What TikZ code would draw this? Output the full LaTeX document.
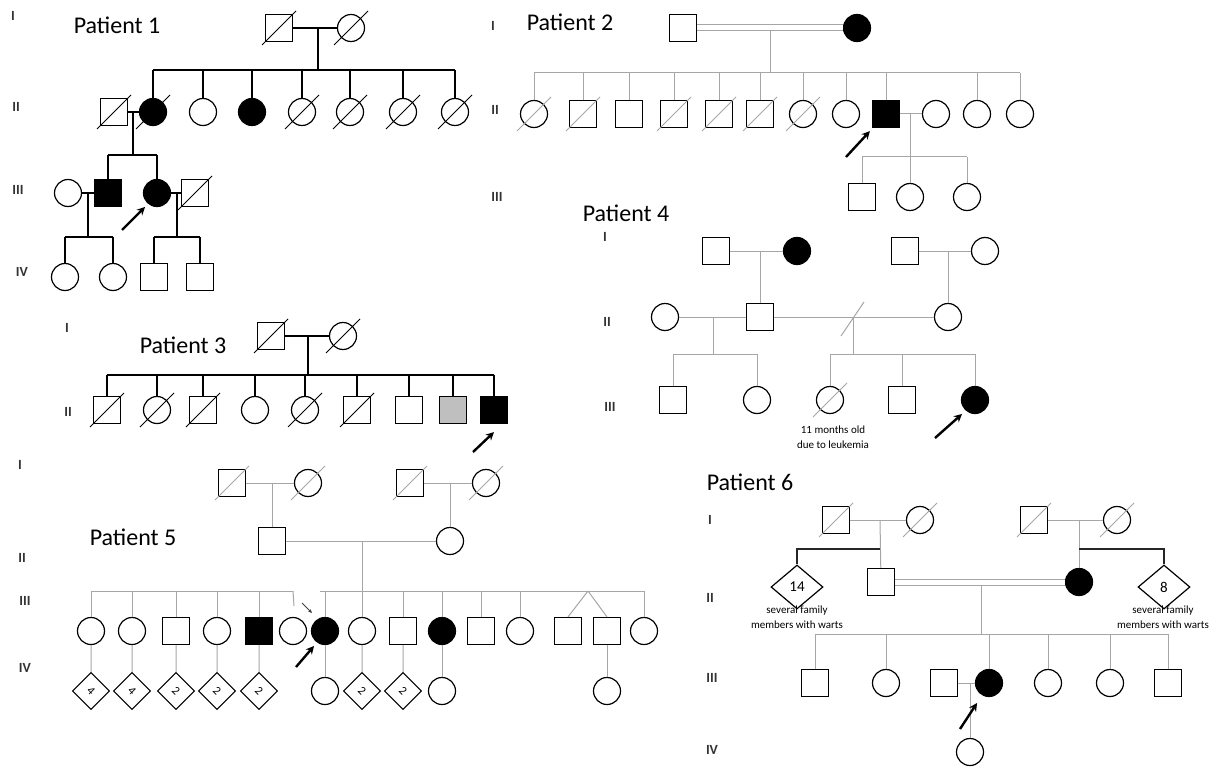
\documentclass[tikz,border=0pt]{standalone}
\usepackage{fontspec}
\setmainfont{Carlito}
\usetikzlibrary{calc,arrows.meta,shapes.geometric}
\newcommand\Dx[2][black]{\draw[#1,line width=1] ($(#2)+(-17,17)$) -- ($(#2)+(17,-17)$);}
\tikzset{
 ind/.style={inner sep=0, line width=1.2, draw=black},
 sq/.style={ind, rectangle, minimum size=27},
 ci/.style={ind, circle, minimum size=27},
 aff/.style={fill=black},
 ln/.style={line width=1.4, black},
 gln/.style={line width=1, gray!70},
 gsh/.style={draw=black!70},
 pro/.style={line width=2.4, -{Stealth[length=8, width=8]}},
 lab/.style={font=\fontsize{24}{28}\selectfont, inner sep=0},
 gen/.style={font=\fontsize{14}{16}\selectfont\bfseries, text=black!80, inner sep=0},
 sm/.style={font=\fontsize{11}{12}\selectfont, inner sep=0},
 dia/.style={ind, rectangle, minimum size=26, rotate=-45, font=\fontsize{12}{13}\selectfont},
 bdia/.style={ind, diamond, minimum width=52, minimum height=44, font=\fontsize{15}{16}\selectfont},
}
\begin{document}
\begin{tikzpicture}[x=1pt,y=-1pt]
\useasboundingbox (0,0) rectangle (1222,767);
% ================= Patient 1 =================
\node[lab] (t1) at (117,25) {Patient 1};
\node[gen] (g1a) at (13,16) {I};
\node[gen] (g1b) at (16,107) {II};
\node[gen] (g1c) at (18,190) {III};
\node[gen] (g1d) at (22,272) {IV};
\node[sq] (a1) at (279,28) {}; \Dx{a1}
\node[ci] (a2) at (351,28) {}; \Dx{a2}
\draw[ln] (a1) -- (a2);
\coordinate (a12) at (318,28); \coordinate (a12s) at (318,70);
\draw[ln] (a12) -- (a12s);
\node[sq] (b1) at (114,112) {}; \Dx{b1}
\node[ci,aff] (b2) at (153,112) {}; \Dx{b2}
\node[ci] (b3) at (203,112) {};
\node[ci,aff] (b4) at (252,112) {};
\node[ci] (b5) at (302,112) {}; \Dx{b5}
\node[ci] (b6) at (350,112) {}; \Dx{b6}
\node[ci] (b7) at (403,112) {}; \Dx{b7}
\node[ci] (b8) at (455,112) {}; \Dx{b8}
\draw[ln] (b2.north|-a12s) -- (b8.north|-a12s);
\foreach \n in {b2,b3,b4,b5,b6,b7,b8} \draw[ln] (\n.north) -- (\n.north|-a12s);
\draw[ln] (b1) -- (b2);
\coordinate (b12) at (133,112); \coordinate (b12s) at (133,155);
\draw[ln] (b12) -- (b12s);
\node[ci] (c1) at (68,193) {};
\node[sq,aff] (c2) at (108,193) {};
\node[ci,aff] (c3) at (157,193) {};
\node[sq] (c4) at (195,193) {}; \Dx{c4}
\draw[ln] (c2.north|-b12s) -- (c3.north|-b12s);
\foreach \n in {c2,c3} \draw[ln] (\n.north) -- (\n.north|-b12s);
\draw[ln] (c1) -- (c2); \draw[ln] (c3) -- (c4);
\coordinate (c12) at (88,193); \coordinate (c12s) at (88,237);
\coordinate (c34) at (177,193); \coordinate (c34s) at (177,237);
\draw[ln] (c12) -- (c12s); \draw[ln] (c34) -- (c34s);
\node[ci] (d1) at (65,277) {};
\node[ci] (d2) at (113,277) {};
\node[sq] (d3) at (154,277) {};
\node[sq] (d4) at (200,277) {};
\draw[ln] (d1.north|-c12s) -- (d2.north|-c12s);
\draw[ln] (d3.north|-c34s) -- (d4.north|-c34s);
\foreach \n/\s in {d1/c12s,d2/c12s,d3/c34s,d4/c34s} \draw[ln] (\n.north) -- (\n.north|-\s);
\coordinate (ar1) at (122,230);
\draw[pro] (ar1) -- ($(c3.south west)+(-2,4)$);
% ================= Patient 2 =================
\node[lab] (t2) at (570,22) {Patient 2};
\node[gen] (g2a) at (493,26) {I};
\node[gen] (g2b) at (495,110) {II};
\node[gen] (g2c) at (497,197) {III};
\begin{scope}[every node/.append style={gsh}]
\node[sq] (e1) at (683,28) {};
\node[ci,aff] (e2) at (857,28) {};
\node[ci] (f1) at (534,114) {};
\node[sq] (f2) at (583,114) {};
\node[sq] (f3) at (629,114) {};
\node[sq] (f4) at (674,114) {};
\node[sq] (f5) at (719,114) {};
\node[sq] (f6) at (760,114) {};
\node[ci] (f7) at (803,114) {};
\node[ci] (f8) at (846,114) {};
\node[sq,aff] (f9) at (886,114) {};
\node[ci] (f10) at (936,114) {};
\node[ci] (f11) at (977,114) {};
\node[ci] (f12) at (1020,114) {};
\node[sq] (h31) at (862,197) {};
\node[ci] (h32) at (910,197) {};
\node[ci] (h33) at (967,197) {};
\end{scope}
\foreach \n in {f1,f2,f4,f5,f6,f7} {\Dx[gray!70]{\n}}
\draw[gln, double, double distance=5] (e1) -- (e2);
\coordinate (e12) at (770,31); \coordinate (e12s) at (770,73);
\draw[gln] (e12) -- (e12s);
\draw[gln] (f1.north|-e12s) -- (f12.north|-e12s);
\foreach \n in {f1,f2,f3,f4,f5,f6,f7,f8,f9,f11,f12} \draw[gln] (\n.north) -- (\n.north|-e12s);
\draw[gln] (f9) -- (f10);
\coordinate (f910) at (910,114); \coordinate (f910s) at (910,157);
\draw[gln] (f910) -- (f910s);
\draw[gln] (h31.north|-f910s) -- (h33.north|-f910s);
\foreach \n in {h31,h32,h33} \draw[gln] (\n.north) -- (\n.north|-f910s);
\coordinate (ar2) at (846,157);
\draw[pro] (ar2) -- ($(f9.south west)+(-2,3)$);
% ================= Patient 4 =================
\node[lab] (t4) at (626,213) {Patient 4};
\node[gen] (g4a) at (605,237) {I};
\node[gen] (g4b) at (607,322) {II};
\node[gen] (g4c) at (610,407) {III};
\begin{scope}[every node/.append style={draw=black!85, minimum size=29}]
\node[sq] (h1) at (716,251) {};
\node[ci,aff] (h2) at (797,251) {};
\node[sq] (h3) at (905,251) {};
\node[ci] (h4) at (985,251) {};
\node[ci] (i1) at (665,317) {};
\node[sq] (i2) at (760,317) {};
\node[ci] (i3) at (948,317) {};
\node[sq] (j1) at (673,400) {};
\node[ci] (j2) at (757,400) {};
\node[ci] (j3) at (830,400) {};
\node[sq] (j4) at (902,400) {};
\node[ci,aff] (j5) at (975,400) {};
\end{scope}
\Dx[gray!70]{j3}
\draw[gln] (h1) -- (h2); \draw[gln] (h3) -- (h4);
\coordinate (h12) at (760,251); \draw[gln] (h12) -- (i2);
\coordinate (h34) at (948,251); \draw[gln] (h34) -- (i3);
\draw[gln] (i1) -- (i2); \draw[gln] (i2) -- (i3);
\coordinate (i12) at (713,317); \coordinate (i12s) at (713,354);
\draw[gln] (i12) -- (i12s);
\draw[gln] (j1.north|-i12s) -- (j2.north|-i12s);
\foreach \n in {j1,j2} \draw[gln] (\n.north) -- (\n.north|-i12s);
\coordinate (i23) at (853,317); \coordinate (i23s) at (853,354);
\draw[gln] (i23) -- (i23s);
\draw[gln] ($(i23)+(-12,19)$) -- ($(i23)+(11,-15)$);
\draw[gln] (j3.north|-i23s) -- (j5.north|-i23s);
\foreach \n in {j3,j4,j5} \draw[gln] (\n.north) -- (\n.north|-i23s);
\node[sm] (n4a) at (833,430) {11 months old};
\node[sm] (n4b) at (833,445) {due to leukemia};
\coordinate (ar4) at (935,438);
\draw[pro] (ar4) -- ($(j5.south west)+(-3,4)$);
% ================= Patient 3 =================
\node[lab] (t3) at (183,345) {Patient 3};
\node[gen] (g3a) at (67,328) {I};
\node[gen] (g3b) at (68,412) {II};
\node[sq] (k1) at (271,336) {}; \Dx{k1}
\node[ci] (k2) at (343,336) {}; \Dx{k2}
\draw[ln] (k1) -- (k2);
\coordinate (k12) at (308,336); \coordinate (k12s) at (308,375);
\draw[ln] (k12) -- (k12s);
\node[sq] (l1) at (107,410) {}; \Dx{l1}
\node[ci] (l2) at (157,410) {}; \Dx{l2}
\node[sq] (l3) at (203,410) {}; \Dx{l3}
\node[ci] (l4) at (255,410) {};
\node[ci] (l5) at (305,410) {}; \Dx{l5}
\node[sq] (l6) at (357,410) {}; \Dx{l6}
\node[sq] (l7) at (409,410) {};
\node[sq, fill=gray!50] (l8) at (453,410) {};
\node[sq,aff] (l9) at (494,410) {};
\draw[ln] (l1.north|-k12s) -- (l9.north|-k12s);
\foreach \n in {l1,l2,l3,l4,l5,l6,l7,l8,l9} \draw[ln] (\n.north) -- (\n.north|-k12s);
\coordinate (ar3) at (473,452);
\draw[pro] (ar3) -- ($(l9.south)+(0,8)$);
% ================= Patient 5 =================
\node[lab] (t5) at (133,537) {Patient 5};
\node[gen] (g5a) at (20,465) {I};
\node[gen] (g5b) at (22,558) {II};
\node[gen] (g5c) at (25,601) {III};
\node[gen] (g5d) at (25,668) {IV};
\begin{scope}[every node/.append style={draw=black!85}]
\node[sq] (m1) at (232,483) {};
\node[ci] (m2) at (308,483) {};
\node[sq] (m3) at (410,483) {};
\node[ci] (m4) at (486,483) {};
\node[sq] (n1) at (272,541) {};
\node[ci] (n2) at (450,541) {};
\node[ci] (o1) at (91,631) {};
\node[ci] (o2) at (132,631) {};
\node[sq] (o3) at (176,631) {};
\node[ci] (o4) at (217,631) {};
\node[sq,aff] (o5) at (259,631) {};
\node[ci] (o6) at (293,631) {};
\node[ci,aff] (o7) at (325,631) {};
\node[ci] (o8) at (362,631) {};
\node[sq] (o9) at (403,631) {};
\node[ci,aff] (o10) at (442,631) {};
\node[sq] (o11) at (481,631) {};
\node[ci] (o12) at (520,631) {};
\node[sq] (o13) at (568,631) {};
\node[sq] (o14) at (607,631) {};
\node[ci] (o15) at (644,631) {};
\node[dia] (p1) at (91,691) {4};
\node[dia] (p2) at (132,691) {4};
\node[dia] (p3) at (176,691) {2};
\node[dia] (p4) at (217,691) {2};
\node[dia] (p5) at (259,691) {2};
\node[ci] (p6) at (325,691) {};
\node[dia] (p7) at (362,691) {2};
\node[dia] (p8) at (403,691) {2};
\node[ci] (p9) at (442,691) {};
\node[ci] (p10) at (607,691) {};
\end{scope}
\foreach \n in {m1,m2,m3,m4} {\Dx[gray!70]{\n}}
\draw[gln] (m1) -- (m2); \draw[gln] (m3) -- (m4);
\coordinate (m12) at (272,483); \draw[gln] (m12) -- (n1);
\coordinate (m34) at (450,483); \draw[gln] (m34) -- (n2);
\draw[gln] (n1) -- (n2);
\coordinate (n12) at (362,541); \coordinate (n12s) at (362,591);
\draw[gln] (n12) -- (n12s);
\draw[gln] (o1.north|-n12s) -- (o6.north|-n12s);
\draw[gln] ($(o7.north|-n12s)+(-5,0)$) -- (o15.north|-n12s);
\foreach \n in {o1,o2,o3,o4,o5,o7,o8,o9,o10,o11,o12,o15} \draw[gln] (\n.north) -- (\n.north|-n12s);
\coordinate (o6t) at (294,606);
\draw[gln] (o6.north|-n12s) -- (o6t);
\coordinate (tw) at (588,591);
\draw[gln] (tw) -- (o13.north); \draw[gln] (tw) -- (o14.north);
\foreach \a/\b in {o1/p1,o2/p2,o3/p3,o4/p4,o5/p5,o7/p6,o8/p7,o9/p8,o10/p9,o14/p10} \draw[gln] (\a) -- (\b);
\coordinate (sa5) at (302,603);
\draw[black!75, line width=0.9, -{Stealth[length=4, width=3.5]}] (sa5) -- ++(10,10);
\coordinate (ar5) at (296,667);
\draw[pro] (ar5) -- ($(o7.south west)+(-1,5)$);
% ================= Patient 6 =================
\node[lab] (t6) at (750,482) {Patient 6};
\node[gen] (g6a) at (710,520) {I};
\node[gen] (g6b) at (710,598) {II};
\node[gen] (g6c) at (712,678) {III};
\node[gen] (g6d) at (712,750) {IV};
\begin{scope}[every node/.append style={draw=black!80, minimum size=30}]
\node[sq] (q1) at (836,520) {};
\node[ci] (q2) at (920,520) {};
\node[sq] (q3) at (1034,520) {};
\node[ci] (q4) at (1117,520) {};
\node[sq] (r2) at (881,582) {};
\node[ci,aff] (r3) at (1079,582) {};
\node[sq] (s1) at (815,683) {};
\node[ci] (s2) at (886,683) {};
\node[sq] (s3) at (944,683) {};
\node[ci,aff] (s4) at (989,683) {};
\node[ci] (s5) at (1048,683) {};
\node[ci] (s6) at (1110,683) {};
\node[sq] (s7) at (1168,683) {};
\node[ci] (u1) at (970,752) {};
\end{scope}
\node[bdia] (r1) at (797,587) {14};
\node[bdia] (r4) at (1164,587) {8};
\foreach \n in {q1,q2,q3,q4} {\Dx[gray!70]{\n}}
\draw[gln] (q1) -- (q2); \draw[gln] (q3) -- (q4);
\coordinate (q12) at (880,520); \coordinate (q12s) at (880,549);
\coordinate (q34) at (1079,520); \coordinate (q34s) at (1079,549);
\draw[gln] (q12) -- (r2); \draw[gln] (q34) -- (r3);
\draw[line width=1.2, black!85] (q12s) -| (r1.north);
\draw[line width=1.2, black!85] (q34s) -| (r4.north);
\node[sm] (n6a) at (797,611) {several family};
\node[sm] (n6b) at (797,625) {members with warts};
\node[sm] (n6c) at (1163,611) {several family};
\node[sm] (n6d) at (1163,625) {members with warts};
\draw[gln, double, double distance=5] (r2) -- (r3);
\coordinate (r23) at (981,585); \coordinate (r23s) at (981,634);
\draw[gln] (r23) -- (r23s);
\draw[gln] (s1.north|-r23s) -- (s7.north|-r23s);
\foreach \n in {s1,s2,s4,s5,s6,s7} \draw[gln] (\n.north) -- (\n.north|-r23s);
\draw[gln] (s3) -- (s4);
\coordinate (s34) at (970,683); \draw[gln] (s34) -- (u1);
\coordinate (ar6) at (960,729);
\draw[pro] (ar6) -- ($(s4.south west)+(-2,10)$);
\end{tikzpicture}
\end{document}
